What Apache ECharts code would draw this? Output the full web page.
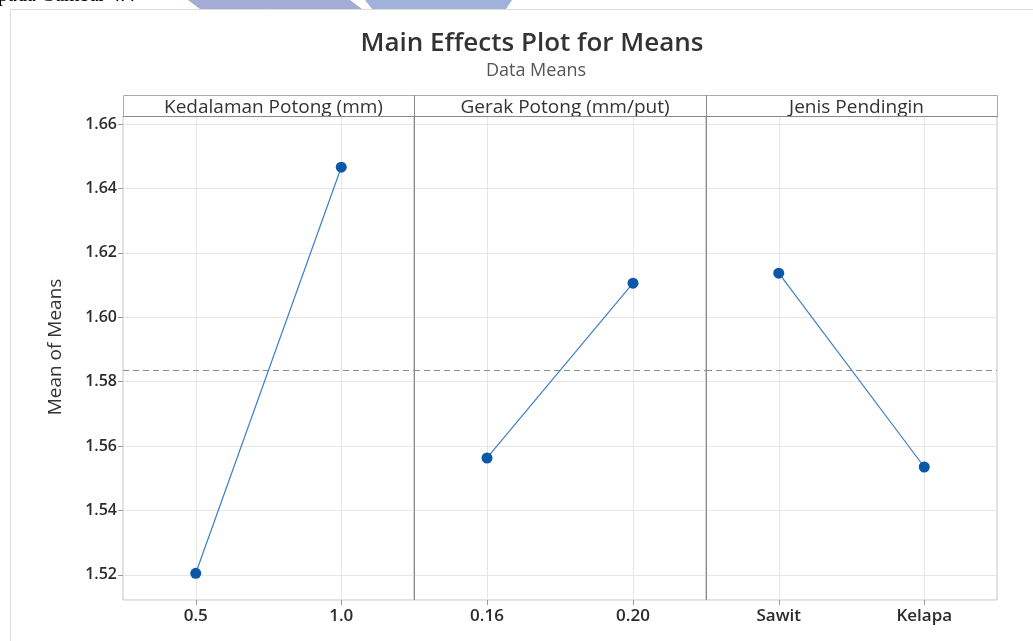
<!DOCTYPE html>
<html>
<head>
<meta charset="utf-8">
<script src="https://cdn.jsdelivr.net/npm/echarts@6/dist/echarts.min.js"></script>
<style>html,body{margin:0;padding:0;background:#fff;}#c{width:1033px;height:641px;}</style>
</head>
<body>
<div id="c"></div>
<script>
// ---- data ----
const panelTitles = ['Kedalaman Potong (mm)', 'Gerak Potong (mm/put)', 'Jenis Pendingin'];
const catsKedalaman = ['0.5', '1.0'];
const catsGerak = ['0.16', '0.20'];
const catsJenis = ['Sawit', 'Kelapa'];
const meansKedalaman = [1.5205, 1.6466];
const meansGerak = [1.5563, 1.6106];
const meansJenis = [1.6137, 1.5535];
const grandMean = 1.5836;
const yTicks = [1.52, 1.54, 1.56, 1.58, 1.60, 1.62, 1.64, 1.66];

const cats = [catsKedalaman, catsGerak, catsJenis];
const means = [meansKedalaman, meansGerak, meansJenis];

const FONT = '"Open Sans", "Noto Sans", sans-serif';
const yMin = 1.5122, yMax = 1.6625;
const gridLefts = [123, 414, 706];
const gridWidths = [291, 292, 291];
const TOP = 116, BOTTOM = 41;

const grids = [], xAxes = [], yAxes = [], series = [];
for (let i = 0; i < 3; i++) {
  grids.push({left: gridLefts[i], width: gridWidths[i], top: TOP, bottom: BOTTOM,
    show: true, borderColor: '#c4c4c4', borderWidth: 1, backgroundColor: 'transparent'});
  xAxes.push({
    gridIndex: i, type: 'category', data: cats[i], boundaryGap: true,
    axisLine: {show: false},
    axisTick: {show: true, alignWithLabel: true, length: 5, lineStyle: {color: '#999'}},
    axisLabel: {color: '#2b2b2b', fontFamily: FONT, fontSize: 17, fontWeight: 600, margin: 8},
    splitLine: {show: false}
  });
  yAxes.push({
    gridIndex: i, type: 'value', min: yMin, max: yMax, splitNumber: 7,
    axisLine: {show: false},
    axisTick: {show: i === 0, length: 5, lineStyle: {color: '#999'}},
    axisLabel: {show: i === 0, color: '#2b2b2b', fontFamily: FONT, fontSize: 16, fontWeight: 600, margin: 6,
      showMinLabel: false, showMaxLabel: false,
      formatter: v => yTicks.some(t => Math.abs(t - v) < 1e-6) ? v.toFixed(2) : ''},
    splitLine: {show: true, lineStyle: {color: '#e6e6e6', width: 1}},
    name: i === 0 ? 'Mean of Means' : '', nameLocation: 'middle', nameGap: 58,
    nameTextStyle: {color: '#333', fontFamily: FONT, fontSize: 19, padding: [0, 0, 0, 22]}
  });
  series.push({
    type: 'line', xAxisIndex: i, yAxisIndex: i, data: means[i],
    symbol: 'circle', symbolSize: 11,
    itemStyle: {color: '#0b57a8'},
    lineStyle: {color: '#3d7fc4', width: 1.2},
    z: 5,
    markLine: {
      silent: true, symbol: 'none', label: {show: false}, animation: false, precision: 6,
      data: [
        {xAxis: cats[i][0], lineStyle: {color: '#e6e6e6', width: 1, type: 'solid'}},
        {xAxis: cats[i][1], lineStyle: {color: '#e6e6e6', width: 1, type: 'solid'}},
        {yAxis: grandMean, lineStyle: {color: '#8c8c8c', width: 1, type: [6, 4]}}
      ]
    }
  });
}

const titles = [
  {text: 'Main Effects Plot for Means', left: 527, top: 26, textAlign: 'center',
    textStyle: {fontFamily: FONT, fontSize: 26, fontWeight: 600, color: '#333'}},
  {text: 'Data Means', left: 531, top: 57, textAlign: 'center',
    textStyle: {fontFamily: FONT, fontSize: 18, fontWeight: 'normal', color: '#555'}}
];
for (let i = 0; i < 3; i++) {
  titles.push({text: panelTitles[i], left: gridLefts[i] + gridWidths[i] / 2, top: 93, textAlign: 'center',
    textStyle: {fontFamily: FONT, fontSize: 19, fontWeight: 500, color: '#333'}});
}

const option = {
  backgroundColor: '#fff',
  animation: false,
  title: titles,
  grid: grids, xAxis: xAxes, yAxis: yAxes, series: series,
  graphic: [
    {type: 'rect', shape: {x: 10.5, y: 9.5, width: 1040, height: 660}, style: {fill: 'none', stroke: '#dcdcdc', lineWidth: 1}, z: -1},
    {type: 'polygon', shape: {points: [[188, 0], [350, 0], [362, 9], [200, 9]]}, style: {fill: '#a4acd6'}},
    {type: 'polygon', shape: {points: [[365, 0], [512, 0], [506, 9], [372, 9]]}, style: {fill: '#a0b2da'}},
    {type: 'text', left: -2, top: -14, style: {text: 'pada Gambar 4.4', font: '20px "Liberation Serif", serif', fill: '#000'}},
    {type: 'rect', shape: {x: 123.5, y: 95.5, width: 874, height: 21}, style: {fill: '#fff', stroke: '#aaa', lineWidth: 1}, z: 0},
    {type: 'line', shape: {x1: 414.5, y1: 95, x2: 414.5, y2: 600}, style: {stroke: '#8a8a8a', lineWidth: 1}, z: 10},
    {type: 'line', shape: {x1: 706.5, y1: 95, x2: 706.5, y2: 600}, style: {stroke: '#8a8a8a', lineWidth: 1}, z: 10},
    {type: 'line', shape: {x1: 123, y1: 116.5, x2: 998, y2: 116.5}, style: {stroke: '#8a8a8a', lineWidth: 1}, z: 10}
  ]
};
const chart = echarts.init(document.getElementById('c'), null, {renderer: 'canvas'});
chart.setOption(option);
</script>
</body>
</html>
